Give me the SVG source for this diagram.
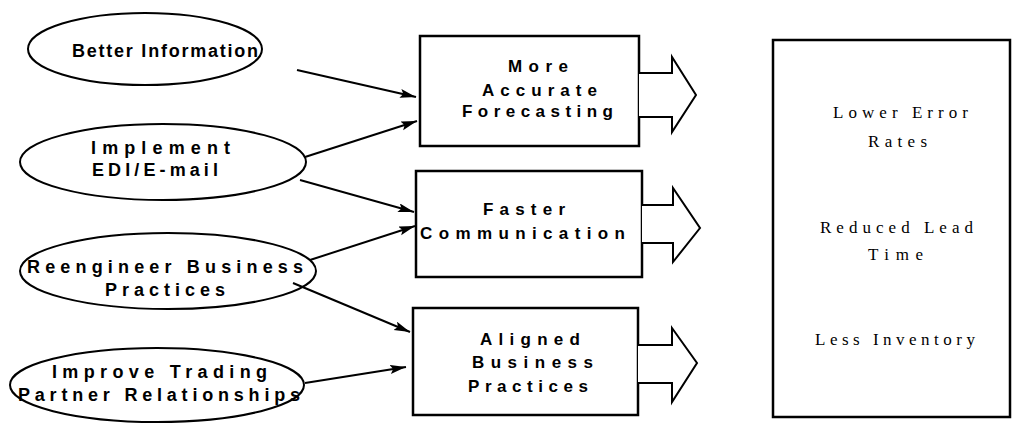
<svg xmlns="http://www.w3.org/2000/svg" width="1026" height="423" viewBox="0 0 1026 423">
<style>
.ell{fill:#fff;stroke:#000;stroke-width:2}
.box{fill:#fff;stroke:#000;stroke-width:2.5}
.blk{fill:#fff;stroke:#000;stroke-width:2;stroke-linejoin:miter}
.t{font-family:"Liberation Sans",Arial,sans-serif;font-weight:bold;font-size:18px;fill:#000}
.b{font-family:"Liberation Sans",Arial,sans-serif;font-weight:bold;font-size:17px;fill:#000}
.s{font-family:"Liberation Serif","Times New Roman",serif;font-size:17px;fill:#000}
.con{stroke:#000;stroke-width:2;fill:none;marker-end:url(#ah)}
</style>
<defs>
<marker id="ah" markerUnits="userSpaceOnUse" markerWidth="18" markerHeight="10" refX="16" refY="4.5" orient="auto">
<path d="M0,0 L16,4.5 L0,9 L3,4.5 z" fill="#000"/>
</marker>
</defs>
<rect width="1026" height="423" fill="#fff"/>
<g id="better-information">
<ellipse class="ell" cx="145" cy="49" rx="117" ry="36"/>
<text class="t" x="72" y="57" textLength="186" lengthAdjust="spacing">Better Information</text>
</g>
<g id="implement-edi">
<ellipse class="ell" cx="163" cy="162" rx="143" ry="38"/>
<text class="t" x="91" y="154" textLength="139" lengthAdjust="spacing">Implement</text>
<text class="t" x="92" y="176" textLength="126" lengthAdjust="spacing">EDI/E-mail</text>
</g>
<g id="reengineer">
<ellipse class="ell" cx="168" cy="271" rx="148" ry="38"/>
<text class="t" x="27" y="273" textLength="276" lengthAdjust="spacing">Reengineer Business</text>
<text class="t" x="105" y="296" textLength="120" lengthAdjust="spacing">Practices</text>
</g>
<g id="improve-trading">
<ellipse class="ell" cx="157" cy="385" rx="147" ry="37"/>
<text class="t" x="52" y="378" textLength="215" lengthAdjust="spacing">Improve Trading</text>
<text class="t" x="18" y="401" textLength="282" lengthAdjust="spacing">Partner Relationships</text>
</g>
<g id="accurate-forecasting">
<rect class="box" x="420" y="36" width="219" height="110"/>
<text class="b" x="508" y="72" textLength="60" lengthAdjust="spacing">More</text>
<text class="b" x="482" y="96" textLength="115" lengthAdjust="spacing">Accurate</text>
<text class="b" x="462" y="117" textLength="151" lengthAdjust="spacing">Forecasting</text>
<path class="blk" d="M639,73 H672 V57 L696,95 L672,132 V117 H639"/>
</g>
<g id="faster-communication">
<rect class="box" x="416" y="171" width="226" height="106"/>
<text class="b" x="483" y="215" textLength="82" lengthAdjust="spacing">Faster</text>
<text class="b" x="420" y="239" textLength="205" lengthAdjust="spacing">Communication</text>
<path class="blk" d="M642,205 H673 V188 L700,228 L673,262 V243 H642"/>
</g>
<g id="aligned-practices">
<rect class="box" x="413" y="308" width="225" height="107"/>
<text class="b" x="480" y="345" textLength="100" lengthAdjust="spacing">Aligned</text>
<text class="b" x="472" y="368" textLength="121" lengthAdjust="spacing">Business</text>
<text class="b" x="468" y="392" textLength="120" lengthAdjust="spacing">Practices</text>
<path class="blk" d="M638,345 H672 V328 L697,363 L672,402 V383 H638"/>
</g>
<g id="results">
<rect class="box" x="773" y="40" width="237" height="377"/>
<text class="s" x="833" y="118" textLength="135" lengthAdjust="spacing">Lower Error</text>
<text class="s" x="868" y="147" textLength="59" lengthAdjust="spacing">Rates</text>
<text class="s" x="820" y="233" textLength="153" lengthAdjust="spacing">Reduced Lead</text>
<text class="s" x="868" y="260" textLength="55" lengthAdjust="spacing">Time</text>
<text class="s" x="815" y="345" textLength="160" lengthAdjust="spacing">Less Inventory</text>
</g>
<g id="connectors">
<line class="con" x1="297" y1="70" x2="416" y2="97"/>
<line class="con" x1="305" y1="157" x2="417" y2="121"/>
<line class="con" x1="300" y1="180" x2="414" y2="212"/>
<line class="con" x1="310" y1="260" x2="415" y2="226"/>
<line class="con" x1="293" y1="283" x2="410" y2="332"/>
<line class="con" x1="305" y1="383" x2="406" y2="367"/>
</g>
</svg>
